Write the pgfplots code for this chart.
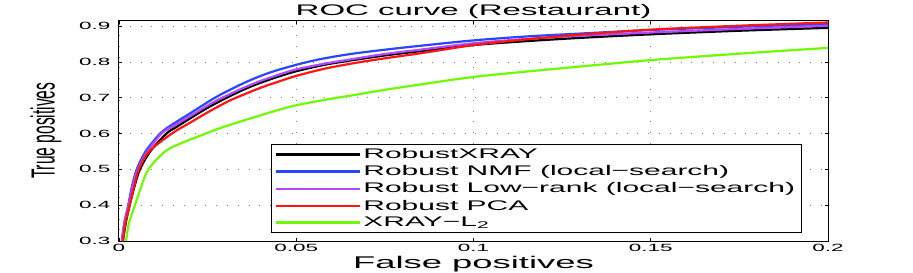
\documentclass[border=0pt]{standalone}
\usepackage{pgfplots}
\pgfplotsset{compat=1.18}
\usepackage{graphicx}
\usepackage{fontspec}
\setmainfont{Liberation Sans}[FakeStretch=2.15]
\newfontfamily\ylfont{Liberation Sans}
\definecolor{cblue}{RGB}{40,70,255}
\definecolor{cpurple}{RGB}{180,70,255}
\definecolor{cred}{RGB}{255,20,20}
\definecolor{cgreen}{RGB}{110,250,0}
\begin{document}
\begin{tikzpicture}
\path[use as bounding box] (-119bp,-32bp) rectangle (794bp,241bp);
\begin{axis}[
  at={(0,0)}, anchor=south west,
  scale only axis, width=709bp, height=220.3bp,
  xmin=0, xmax=0.2, ymin=0.3, ymax=0.915,
  xtick={0,0.05,0.1,0.15,0.2},
  ytick={0.3,0.4,0.5,0.6,0.7,0.8,0.9},
  /pgf/number format/fixed, /pgf/number format/precision=2,
  /pgf/number format/assume math mode=true,
  tick align=inside, major tick length=3bp,
  tick style={black, line width=0.6bp},
  axis line style={black, line width=1bp},
  grid=major,
  grid style={gray, line width=0.6bp, dash pattern=on 0.8bp off 10bp},
  ticklabel style={font=\fontsize{10.5}{12}\selectfont},
  yticklabel style={xshift=-5bp},
  title={ROC curve (Restaurant)},
  title style={font=\fontsize{15.4}{17}\selectfont, anchor=base, at={(axis description cs:0.5,1)}, yshift=-0.3bp},
  xlabel={False positives},
  xlabel style={font=\fontsize{17}{19}\selectfont, anchor=base, at={(axis description cs:0.5,0)}, yshift=-27bp},
  ylabel={\scalebox{1}[2.15]{\ylfont\fontsize{15.6}{17}\selectfont True positives}},
  ylabel style={at={(axis description cs:0,0.5)}, anchor=center, yshift=73bp},
  legend style={at={(rel axis cs:0.214,0.038)}, anchor=south west, draw=black, line width=1bp, fill=white,
    font=\fontsize{14}{15}\selectfont, cells={anchor=west}, row sep=1.5bp, inner xsep=4bp, inner ysep=2bp},
  legend image code/.code={\path (0bp,0bp) -- (84bp,0bp);\draw[#1, line width=1.2bp] (6bp,0bp) -- (79bp,0bp);},
  every axis plot/.append style={line width=2.2bp, smooth, tension=0.5},
]
\addplot[black] coordinates {
(0.0011,0.30) (0.0019,0.35) (0.003,0.40) (0.0043,0.45) (0.0059,0.50) (0.0088,0.55) (0.0134,0.60) (0.016,0.617) (0.02,0.642) (0.025,0.672) (0.0294,0.695) (0.035,0.722) (0.04,0.742) (0.045,0.759) (0.05,0.774) (0.058,0.792) (0.066,0.805) (0.075,0.818) (0.085,0.830) (0.1,0.847) (0.115,0.858) (0.13,0.867) (0.15,0.877) (0.175,0.887) (0.2,0.895)};
\addlegendentry{RobustXRAY}
\addplot[cblue] coordinates {
(0.0008,0.30) (0.0015,0.35) (0.0026,0.40) (0.0036,0.45) (0.005,0.50) (0.0075,0.55) (0.0116,0.60) (0.015,0.625) (0.02,0.656) (0.0257,0.692) (0.0285,0.708) (0.035,0.740) (0.04,0.761) (0.045,0.778) (0.052,0.797) (0.058,0.810) (0.066,0.823) (0.075,0.834) (0.085,0.845) (0.1,0.860) (0.115,0.871) (0.13,0.879) (0.15,0.889) (0.175,0.898) (0.2,0.906)};
\addlegendentry{Robust NMF (local−search)}
\addplot[cpurple] coordinates {
(0.0008,0.30) (0.0015,0.35) (0.0027,0.40) (0.0038,0.45) (0.0053,0.50) (0.008,0.55) (0.012,0.60) (0.015,0.619) (0.02,0.648) (0.025,0.678) (0.0285,0.697) (0.035,0.727) (0.04,0.747) (0.045,0.764) (0.05,0.779) (0.058,0.795) (0.066,0.808) (0.075,0.822) (0.085,0.834) (0.1,0.852) (0.115,0.864) (0.13,0.873) (0.15,0.882) (0.175,0.892) (0.2,0.901)};
\addlegendentry{Robust Low−rank (local−search)}
\addplot[cred] coordinates {
(0.0011,0.30) (0.0018,0.35) (0.003,0.40) (0.0042,0.45) (0.0056,0.50) (0.0085,0.55) (0.0149,0.60) (0.02,0.63) (0.025,0.659) (0.0308,0.69) (0.035,0.708) (0.04,0.728) (0.045,0.745) (0.05,0.761) (0.058,0.781) (0.066,0.796) (0.075,0.810) (0.085,0.824) (0.1,0.847) (0.115,0.863) (0.13,0.876) (0.15,0.890) (0.175,0.901) (0.2,0.910)};
\addlegendentry{Robust PCA}
\addplot[cgreen] coordinates {
(0.002,0.30) (0.0028,0.35) (0.0045,0.40) (0.0062,0.45) (0.0083,0.50) (0.013,0.55) (0.018,0.575) (0.0237,0.597) (0.0285,0.615) (0.035,0.636) (0.04,0.651) (0.045,0.666) (0.05,0.679) (0.058,0.694) (0.066,0.707) (0.075,0.722) (0.085,0.737) (0.1,0.758) (0.115,0.773) (0.13,0.787) (0.15,0.805) (0.175,0.823) (0.2,0.839)};
\addlegendentry{XRAY−L\textsubscript{2}}
\end{axis}
\end{tikzpicture}
\end{document}
